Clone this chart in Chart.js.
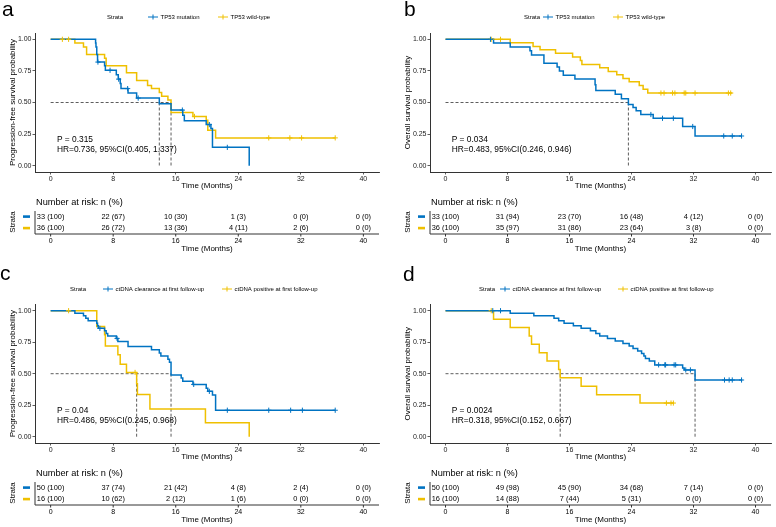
<!DOCTYPE html>
<html>
<head>
<meta charset="utf-8">
<script src="https://cdn.jsdelivr.net/npm/chart.js@4.4.0/dist/chart.umd.min.js"></script>
<style>
  html, body { margin: 0; padding: 0; background: #fff; }
  #wrap { position: relative; width: 776px; height: 527px; overflow: hidden; }
  canvas { position: absolute; }
</style>
</head>
<body>
<div id="wrap">
  <canvas id="pa" width="388" height="265" style="left:0;top:0;width:388px;height:265px"></canvas>
  <canvas id="pb" width="388" height="265" style="left:388px;top:0;width:388px;height:265px"></canvas>
  <canvas id="pc" width="388" height="262" style="left:0;top:265px;width:388px;height:262px"></canvas>
  <canvas id="pd" width="388" height="262" style="left:388px;top:265px;width:388px;height:262px"></canvas>
</div>
<script>
const FONT = "'Liberation Sans', Arial, sans-serif";
const BLUE = '#0073C2', YEL = '#EFC000';

const months = [0, 8, 16, 24, 32, 40];
const probTicks = [0, 0.25, 0.5, 0.75, 1];

// a: PFS by TP53
const aMutTime = [0, 5.75, 5.8, 5.9, 6.0, 6.9, 7.0, 8.4, 8.65, 8.9, 9.0, 9.9, 11.0, 13.9, 15.4, 16.9, 17.1, 19.9, 20.5, 20.7, 25.4];
const aMutSurv = [1, 0.97, 0.94, 0.88, 0.82, 0.79, 0.755, 0.72, 0.685, 0.65, 0.61, 0.575, 0.535, 0.49, 0.44, 0.40, 0.355, 0.325, 0.295, 0.145, 0];
const aMutCens = [6.05, 7.6, 8.7, 9.85, 11.2, 16.85, 20.3, 22.6];
const aWtTime = [0, 3.1, 4.2, 4.6, 6.9, 7.1, 9.7, 11.0, 12.4, 12.9, 13.9, 14.2, 15.0, 15.4, 18.2, 19.9, 20.1, 21.1, 36.4];
const aWtSurv = [1, 0.97, 0.94, 0.88, 0.85, 0.79, 0.735, 0.675, 0.635, 0.61, 0.58, 0.55, 0.52, 0.42, 0.39, 0.36, 0.28, 0.22, 0.22];
const aWtCens = [1.5, 2.3, 18.4, 27.9, 30.6, 32.1, 36.4];
const aRiskMut = ['33 (100)', '22 (67)', '10 (30)', '1 (3)', '0 (0)', '0 (0)'];
const aRiskWt = ['36 (100)', '26 (72)', '13 (36)', '4 (11)', '2 (6)', '0 (0)'];

// b: OS by TP53
const bMutTime = [0, 6.2, 8.35, 10.9, 11.1, 12.7, 14.4, 14.7, 15.2, 16.7, 19.3, 19.4, 21.9, 22.7, 23.6, 24.2, 24.6, 25.2, 26.8, 30.6, 32.2, 38.2];
const bMutSurv = [1, 0.97, 0.94, 0.91, 0.875, 0.81, 0.78, 0.75, 0.715, 0.685, 0.64, 0.595, 0.565, 0.53, 0.485, 0.46, 0.435, 0.405, 0.375, 0.31, 0.235, 0.235];
const bMutCens = [5.8, 26.5, 28.0, 29.4, 31.9, 35.9, 37.0, 38.2];
const bWtTime = [0, 8.35, 11.3, 12.2, 14.2, 16.4, 17.4, 17.6, 19.9, 21.0, 22.1, 22.9, 23.7, 25.0, 25.5, 26.1, 37.0];
const bWtSurv = [1, 0.972, 0.944, 0.917, 0.889, 0.861, 0.833, 0.80, 0.775, 0.745, 0.72, 0.69, 0.665, 0.635, 0.605, 0.575, 0.575];
const bWtCens = [5.9, 7.1, 27.8, 28.2, 29.3, 29.6, 30.8, 31.0, 32.2, 36.5, 36.8];
const bRiskMut = ['33 (100)', '31 (94)', '23 (70)', '16 (48)', '4 (12)', '0 (0)'];
const bRiskWt = ['36 (100)', '35 (97)', '31 (86)', '23 (64)', '3 (8)', '0 (0)'];

// c: PFS by ctDNA clearance
const cClrTime = [0, 3.1, 4.2, 4.5, 4.8, 5.9, 6.0, 6.1, 6.9, 7.1, 7.3, 8.4, 8.6, 9.9, 12.9, 13.9, 14.1, 15.0, 15.2, 15.4, 16.7, 16.9, 18.2, 19.9, 20.1, 20.7, 21.1, 36.4];
const cClrSurv = [1, 0.98, 0.96, 0.94, 0.92, 0.90, 0.88, 0.86, 0.84, 0.82, 0.80, 0.78, 0.755, 0.715, 0.69, 0.665, 0.64, 0.615, 0.59, 0.49, 0.465, 0.44, 0.415, 0.385, 0.36, 0.33, 0.21, 0.21];
const cClrCens = [6.3, 8.5, 18.3, 20.3, 22.6, 27.9, 30.7, 32.2, 36.4];
const cPosTime = [0, 5.9, 6.9, 7.0, 8.6, 8.9, 9.7, 11.0, 11.1, 12.7, 19.8, 25.4];
const cPosSurv = [1, 0.875, 0.81, 0.72, 0.65, 0.575, 0.51, 0.42, 0.335, 0.22, 0.11, 0];
const cPosCens = [2.3, 10.8];
const cRiskClr = ['50 (100)', '37 (74)', '21 (42)', '4 (8)', '2 (4)', '0 (0)'];
const cRiskPos = ['16 (100)', '10 (62)', '2 (12)', '1 (6)', '0 (0)', '0 (0)'];

// d: OS by ctDNA clearance
const dClrTime = [0, 8.35, 11.4, 14.0, 14.6, 15.3, 16.5, 17.5, 18.7, 19.4, 19.9, 20.9, 21.9, 22.9, 23.7, 24.2, 24.8, 25.3, 25.6, 25.8, 26.3, 27.0, 30.6, 30.8, 32.2, 38.3];
const dClrSurv = [1, 0.98, 0.96, 0.94, 0.92, 0.90, 0.88, 0.86, 0.84, 0.82, 0.80, 0.78, 0.76, 0.74, 0.72, 0.70, 0.68, 0.66, 0.64, 0.62, 0.60, 0.57, 0.545, 0.53, 0.45, 0.45];
const dClrCens = [6.1, 7.1, 27.5, 28.3, 28.4, 29.5, 29.7, 31.0, 31.6, 36.0, 36.6, 37.0, 38.2];
const dPosTime = [0, 6.2, 8.35, 10.8, 11.1, 12.1, 13.1, 14.6, 14.8, 17.5, 19.5, 25.1, 29.5];
const dPosSurv = [1, 0.933, 0.867, 0.80, 0.733, 0.667, 0.60, 0.533, 0.467, 0.40, 0.333, 0.267, 0.267];
const dPosCens = [5.9, 28.5, 29.1, 29.4];
const dRiskClr = ['50 (100)', '49 (98)', '45 (90)', '34 (68)', '7 (14)', '0 (0)'];
const dRiskPos = ['16 (100)', '14 (88)', '7 (44)', '5 (31)', '0 (0)', '0 (0)'];

function stepAt(time, surv, t) {
  let s = surv[0];
  for (let i = 0; i < time.length; i++) if (time[i] <= t) s = surv[i];
  return s;
}
function median(time, surv) {
  for (let i = 0; i < time.length; i++) if (surv[i] <= 0.5) return time[i];
  return null;
}

function makePanel(cfg) {
  const ar = cfg.area;
  const datasets = [];
  cfg.groups.forEach(g => datasets.push({
    data: g.cens.map(t => ({ x: t, y: stepAt(g.time, g.surv, t) })),
    showLine: false, pointStyle: 'cross', pointRadius: 2.6, borderWidth: 1,
    borderColor: g.color, backgroundColor: g.color
  }));
  cfg.groups.forEach(g => datasets.push({
    data: g.time.map((t, i) => ({ x: t, y: g.surv[i] })),
    stepped: 'before', borderColor: g.color, borderWidth: 1.5, pointRadius: 0, fill: false
  }));
  const meds = cfg.groups.map(g => median(g.time, g.surv)).filter(m => m !== null);
  const medData = [{ x: 0, y: 0.5 }, { x: Math.max(...meds), y: 0.5 }];
  meds.forEach(m => medData.push({ x: m, y: null }, { x: m, y: 0.5 }, { x: m, y: 0 }));
  datasets.push({ data: medData, borderColor: '#333', borderWidth: 0.8, borderDash: [3, 2], pointRadius: 0, fill: false, spanGaps: false });

  const extras = {
    id: 'kmExtras',
    afterDraw(chart) {
      const ctx = chart.ctx, a = chart.chartArea, xs = chart.scales.x, ys = chart.scales.y;
      ctx.save();
      ctx.fillStyle = '#000';
      ctx.textAlign = 'left';
      ctx.textBaseline = 'alphabetic';
      ctx.font = `21px ${FONT}`;
      ctx.fillText(cfg.letter, cfg.letterX, cfg.letterY);

      // legend
      const lg = cfg.legend;
      ctx.font = `6px ${FONT}`;
      ctx.textBaseline = 'middle';
      ctx.fillText('Strata', lg.strataX, lg.y);
      lg.items.forEach((x0, i) => {
        const g = cfg.groups[i];
        ctx.strokeStyle = g.color;
        ctx.lineWidth = 1;
        ctx.beginPath();
        ctx.moveTo(x0, lg.y); ctx.lineTo(x0 + 10, lg.y);
        ctx.moveTo(x0 + 5, lg.y - 2.5); ctx.lineTo(x0 + 5, lg.y + 2.5);
        ctx.stroke();
        ctx.fillStyle = '#000';
        ctx.fillText(g.label, x0 + 12.5, lg.y);
      });

      // axis titles
      ctx.font = `8px ${FONT}`;
      ctx.save();
      ctx.translate(a.left - 22, (a.top + a.bottom) / 2);
      ctx.rotate(-Math.PI / 2);
      ctx.textAlign = 'center';
      ctx.fillText(cfg.yTitle, 0, 0);
      ctx.restore();
      ctx.textAlign = 'center';
      ctx.fillText('Time (Months)', (a.left + a.right) / 2, a.bottom + 14);

      // p value and HR
      ctx.textAlign = 'left';
      ctx.font = `8.4px ${FONT}`;
      ctx.fillText(cfg.p, xs.getPixelForValue(0.8), ys.getPixelForValue(0.205));
      ctx.fillText(cfg.hr, xs.getPixelForValue(0.8), ys.getPixelForValue(0.125));

      // risk table
      const B = a.bottom;
      const rows = [B + 44.5, B + 56];
      ctx.font = `9.2px ${FONT}`;
      ctx.fillText('Number at risk: n (%)', a.left + 1, B + 30);
      ctx.font = `7.4px ${FONT}`;
      ctx.textAlign = 'center';
      cfg.groups.forEach((g, gi) => {
        months.forEach((m, k) => ctx.fillText(g.risk[k], xs.getPixelForValue(m), rows[gi]));
        ctx.fillStyle = g.color;
        ctx.fillRect(a.left - 12, rows[gi] - 1.2, 7, 2.6);
        ctx.fillStyle = '#000';
      });
      ctx.strokeStyle = '#333';
      ctx.lineWidth = 1;
      ctx.beginPath();
      ctx.moveTo(a.left, B + 39); ctx.lineTo(a.left, B + 62); ctx.lineTo(a.right, B + 62);
      months.forEach(m => { const px = xs.getPixelForValue(m); ctx.moveTo(px, B + 62); ctx.lineTo(px, B + 64.5); });
      ctx.stroke();
      ctx.font = `7px ${FONT}`;
      months.forEach(m => ctx.fillText(String(m), xs.getPixelForValue(m), B + 69));
      ctx.font = `8px ${FONT}`;
      ctx.fillText('Time (Months)', (a.left + a.right) / 2, B + 77);
      ctx.save();
      ctx.translate(a.left - 22, B + 50);
      ctx.rotate(-Math.PI / 2);
      ctx.fillText('Strata', 0, 0);
      ctx.restore();
      ctx.restore();
    }
  };

  new Chart(document.getElementById(cfg.id), {
    type: 'line',
    data: { datasets },
    plugins: [extras],
    options: {
      responsive: false,
      animation: false,
      events: [],
      layout: { padding: { left: ar.left - 30, top: ar.top, right: cfg.w - ar.right, bottom: cfg.h - ar.bottom - 20 } },
      plugins: { legend: { display: false }, tooltip: { enabled: false } },
      scales: {
        x: {
          type: 'linear', min: -2, max: 42,
          afterBuildTicks: s => { s.ticks = months.map(v => ({ value: v })); },
          afterFit: s => { s.height = 20; s.paddingLeft = 0; s.paddingRight = 0; },
          grid: { drawOnChartArea: false, drawTicks: true, tickLength: 2.5, color: '#333', lineWidth: 0.8 },
          border: { display: true, color: '#333', width: 1 },
          ticks: { font: { family: FONT, size: 7 }, color: '#222', padding: 0, maxRotation: 0, autoSkip: false }
        },
        y: {
          type: 'linear', min: -0.05, max: 1.05,
          afterBuildTicks: s => { s.ticks = probTicks.map(v => ({ value: v })); },
          afterFit: s => { s.width = 30; s.paddingTop = 0; s.paddingBottom = 0; },
          grid: { drawOnChartArea: false, drawTicks: true, tickLength: 2.5, color: '#333', lineWidth: 0.8 },
          border: { display: true, color: '#333', width: 1 },
          ticks: { font: { family: FONT, size: 7 }, color: '#222', padding: 1, autoSkip: false, callback: v => v.toFixed(2) }
        }
      }
    }
  });
}

makePanel({
  id: 'pa', w: 388, h: 265, area: { left: 35, top: 33, right: 379, bottom: 172 },
  letter: 'a', letterX: 2, letterY: 16,
  legend: { y: 17, strataX: 107, items: [148, 218] },
  yTitle: 'Progression-free survival probability',
  p: 'P = 0.315', hr: 'HR=0.736, 95%CI(0.405, 1.337)',
  groups: [
    { label: 'TP53 mutation', color: BLUE, time: aMutTime, surv: aMutSurv, cens: aMutCens, risk: aRiskMut },
    { label: 'TP53 wild-type', color: YEL, time: aWtTime, surv: aWtSurv, cens: aWtCens, risk: aRiskWt }
  ]
});
makePanel({
  id: 'pb', w: 388, h: 265, area: { left: 42, top: 33, right: 387, bottom: 172 },
  letter: 'b', letterX: 16, letterY: 15.5,
  legend: { y: 17, strataX: 136, items: [155, 225] },
  yTitle: 'Overall survival probability',
  p: 'P = 0.034', hr: 'HR=0.483, 95%CI(0.246, 0.946)',
  groups: [
    { label: 'TP53 mutation', color: BLUE, time: bMutTime, surv: bMutSurv, cens: bMutCens, risk: bRiskMut },
    { label: 'TP53 wild-type', color: YEL, time: bWtTime, surv: bWtSurv, cens: bWtCens, risk: bRiskWt }
  ]
});
makePanel({
  id: 'pc', w: 388, h: 262, area: { left: 35, top: 39.4, right: 379, bottom: 178 },
  letter: 'c', letterX: 0, letterY: 15,
  legend: { y: 24, strataX: 70, items: [103, 222] },
  yTitle: 'Progression-free survival probability',
  p: 'P = 0.04', hr: 'HR=0.486, 95%CI(0.245, 0.968)',
  groups: [
    { label: 'ctDNA clearance at first follow-up', color: BLUE, time: cClrTime, surv: cClrSurv, cens: cClrCens, risk: cRiskClr },
    { label: 'ctDNA positive at first follow-up', color: YEL, time: cPosTime, surv: cPosSurv, cens: cPosCens, risk: cRiskPos }
  ]
});
makePanel({
  id: 'pd', w: 388, h: 262, area: { left: 42, top: 39.4, right: 387, bottom: 178 },
  letter: 'd', letterX: 15, letterY: 16,
  legend: { y: 24, strataX: 91, items: [112, 230] },
  yTitle: 'Overall survival probability',
  p: 'P = 0.0024', hr: 'HR=0.318, 95%CI(0.152, 0.667)',
  groups: [
    { label: 'ctDNA clearance at first follow-up', color: BLUE, time: dClrTime, surv: dClrSurv, cens: dClrCens, risk: dRiskClr },
    { label: 'ctDNA positive at first follow-up', color: YEL, time: dPosTime, surv: dPosSurv, cens: dPosCens, risk: dRiskPos }
  ]
});
</script>
</body>
</html>
